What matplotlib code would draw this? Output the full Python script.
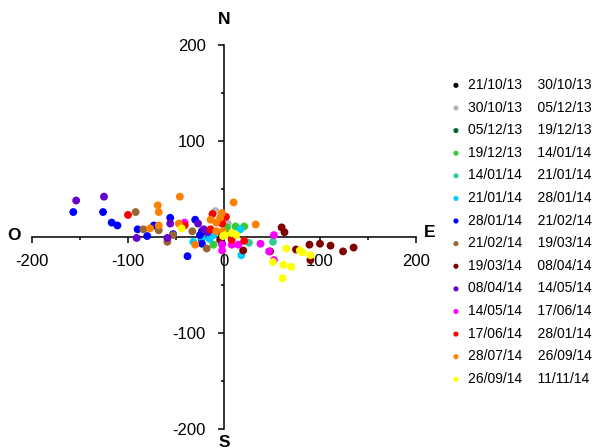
import numpy as np
import matplotlib
matplotlib.use('Agg')
from matplotlib import pyplot as plt
from matplotlib.ticker import MultipleLocator

plt.rcParams['font.family'] = ['Liberation Sans', 'DejaVu Sans']
plt.rcParams['axes.unicode_minus'] = False

# periods (start / end) and colours
starts = ['21/10/13', '30/10/13', '05/12/13', '19/12/13', '14/01/14', '21/01/14', '28/01/14',
          '21/02/14', '19/03/14', '08/04/14', '14/05/14', '17/06/14', '28/07/14', '26/09/14']
ends = ['30/10/13', '05/12/13', '19/12/13', '14/01/14', '21/01/14', '28/01/14', '21/02/14',
        '19/03/14', '08/04/14', '14/05/14', '17/06/14', '28/01/14', '26/09/14', '11/11/14']
colors = ['#000000', '#b4b4b4', '#006633', '#33cc33', '#33cc99', '#00ccff', '#0000ff',
          '#996633', '#800000', '#6600cc', '#ff00ff', '#ff0000', '#ff8000', '#ffff00']

# east / north displacements for each period
e01 = [-2]
n01 = [2]
e02 = [-9, -1, 4]
n02 = [27, 21, 14]
e03 = [3]
n03 = [4]
e04 = [12, 21, -11, 3]
n04 = [11, 11, -8, 10]
e05 = [51, 26]
n05 = [-5, -6]
e06 = [17, 18, -32, -11, -15, -23]
n06 = [8, -19, -5, 2, -2, -1]
e07 = [-157, -126, -117, -111, -90, -80, -73, -56, -53, -38, -30, -25, -23, -23, -2]
n07 = [26, 26, 15, 12, 8, 1, 12, 20, 3, -20, 18, 2, -7, 6, -7]
e08 = [-92, -84, -68, -59, -53, -33, -18]
n08 = [26, 8, 7, -5, 2, 6, -12]
e09 = [60, 63, 48, 20, 75, 89, 100, 111, 124, 135, 90, -4]
n09 = [10, 5, -15, -14, -13, -8, -7, -9, -15, -11, -24, -3]
e10 = [-154, -125, -91, -59, -56, -27, -21, -17]
n10 = [38, 42, -1, -1, 14, 14, 8, 5]
e11 = [-41, 52, 38, 47, 52, -2, -2, 8, 15]
n11 = [15, 2, -7, -15, -24, -8, -14, -8, -8]
e12 = [-100, -41, -12, 2, -2, -14, 8, 21]
n12 = [23, 12, 24, 21, 14, 8, -3, -4]
e13 = [-46, -69, -68, -77, -68, -47, -30, 10, 33, -2, -4, -14, -8, -1, -8]
n13 = [42, 33, 26, 9, 12, 14, -8, 36, 13, 25, 20, 18, 15, 6, 6]
e14 = [-44, 1, 8, 13, -1, 65, 79, 82, 90, 51, 62, 70, 61]
n14 = [9, 2, 4, 2, 1, -12, -14, -16, -19, -26, -29, -31, -43]

east = [e01, e02, e03, e04, e05, e06, e07, e08, e09, e10, e11, e12, e13, e14]
north = [n01, n02, n03, n04, n05, n06, n07, n08, n09, n10, n11, n12, n13, n14]

W, H = 598, 448
fig = plt.figure(figsize=(W / 100, H / 100), dpi=100)
ax = fig.add_axes([32 / W, 1 - 429 / H, 384 / W, 384 / H])

for e, n, c, s0, s1 in zip(east, north, colors, starts, ends):
    ax.scatter(e, n, s=32, color=c, edgecolors='none', zorder=3, clip_on=False,
               label=s0 + '    ' + s1)

ax.set_xlim(-200, 200)
ax.set_ylim(-200, 200)
for side in ['top', 'right']:
    ax.spines[side].set_visible(False)
ax.spines['left'].set_position('zero')
ax.spines['bottom'].set_position('zero')
ax.spines['left'].set_linewidth(1.1)
ax.spines['bottom'].set_linewidth(1.1)
ax.xaxis.set_major_locator(MultipleLocator(100))
ax.yaxis.set_major_locator(MultipleLocator(100))
ax.xaxis.set_minor_locator(MultipleLocator(50))
ax.yaxis.set_minor_locator(MultipleLocator(50))
ax.tick_params(which='major', direction='out', length=4, width=1.1, labelsize=12)
ax.tick_params(which='minor', direction='out', length=2, width=1.1)
ax.tick_params(axis='x', pad=8)
ax.tick_params(axis='y', pad=9)

fig.text(224 / W, 1 - 19 / H, 'N', ha='center', va='center', fontsize=12.5, fontweight='bold')
fig.text(224 / W, 1 - 442 / H, 'S', ha='center', va='center', fontsize=12.5, fontweight='bold')
fig.text(14 / W, 1 - 235 / H, 'O', ha='center', va='center', fontsize=12.5, fontweight='bold')
fig.text(430 / W, 1 - 232 / H, 'E', ha='center', va='center', fontsize=12.5, fontweight='bold')

fig.legend(loc='upper left', bbox_to_anchor=(449 / W, 1 - 78 / H), frameon=False,
           fontsize=10, handlelength=1, handletextpad=0.4, labelspacing=0.62,
           borderpad=0, borderaxespad=0, markerscale=0.65, scatterpoints=1)

fig.savefig('out.png', dpi=100)
